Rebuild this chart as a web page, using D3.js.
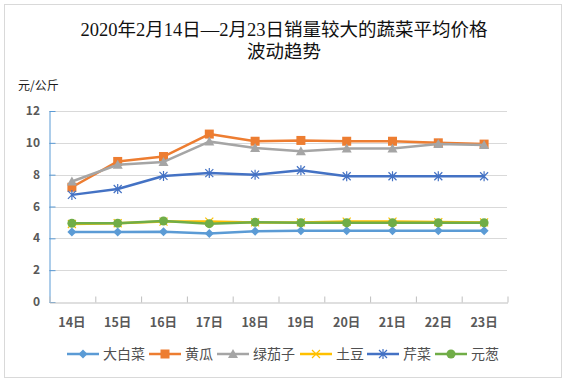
<!DOCTYPE html>
<html><head><meta charset="utf-8">
<script src="https://cdn.jsdelivr.net/npm/d3@7"></script>
<style>body{margin:0;background:#fff;}svg{display:block;}</style>
</head><body>
<svg id="c" width="569" height="383"></svg>
<script>
const categories = ["14日","15日","16日","17日","18日","19日","20日","21日","22日","23日"];
const seriesNames = ["大白菜","黄瓜","绿茄子","土豆","芹菜","元葱"];
const dabaicai = [4.4, 4.4, 4.42, 4.3, 4.45, 4.48, 4.48, 4.48, 4.48, 4.48];
const huanggua = [7.21, 8.83, 9.14, 10.55, 10.1, 10.15, 10.1, 10.1, 10.0, 9.92];
const lvqiezi = [7.57, 8.62, 8.8, 10.08, 9.68, 9.47, 9.64, 9.65, 9.92, 9.86];
const tudou = [4.9, 4.95, 5.05, 5.05, 5.0, 5.0, 5.05, 5.05, 5.02, 5.0];
const qincai = [6.73, 7.1, 7.92, 8.1, 8.0, 8.28, 7.9, 7.9, 7.9, 7.9];
const yuancong = [4.95, 4.95, 5.09, 4.92, 5.01, 4.98, 4.98, 4.98, 4.98, 4.98];
const yTicks = [0, 2, 4, 6, 8, 10, 12];

const seriesData = [dabaicai, huanggua, lvqiezi, tudou, qincai, yuancong];
const colors = ["#5B9BD5", "#ED7D31", "#A5A5A5", "#FFC000", "#4472C4", "#70AD47"];
const markers = ["diamond", "square", "triangle", "x", "star", "circle"];

const svg = d3.select("#c");
const pLeft = 49, pRight = 507, pTop = 111, pBottom = 302;

svg.append("rect").attr("x", 4.5).attr("y", 4.5).attr("width", 557).attr("height", 373)
  .attr("fill", "#fff").attr("stroke", "#D9D9D9").attr("stroke-width", 1);

const titleFont = "'Liberation Serif','Noto Sans CJK SC',serif";
svg.append("text").attr("x", 284).attr("y", 36).attr("text-anchor", "middle")
  .attr("font-family", titleFont).attr("font-size", 18.5).attr("fill", "#111")
  .text("2020年2月14日—2月23日销量较大的蔬菜平均价格");
svg.append("text").attr("x", 284).attr("y", 58).attr("text-anchor", "middle")
  .attr("font-family", titleFont).attr("font-size", 18.5).attr("fill", "#111")
  .text("波动趋势");

const labFont = "'Noto Sans CJK SC','Microsoft YaHei',sans-serif";
svg.append("text").attr("x", 18).attr("y", 90)
  .attr("font-family", labFont).attr("font-size", 12).attr("fill", "#1a1a1a")
  .text("元/公斤");

const x = d3.scaleBand().domain(categories).range([pLeft, pRight]).padding(0);
const y = d3.scaleLinear().domain([0, 12]).range([pBottom, pTop]);

// gridlines
svg.append("g").selectAll("line").data(yTicks.filter(d => d > 0)).join("line")
  .attr("x1", pLeft).attr("x2", pRight)
  .attr("y1", d => Math.round(y(d)) + 0.5).attr("y2", d => Math.round(y(d)) + 0.5)
  .attr("stroke", "#D9D9D9").attr("stroke-width", 1);

// y axis
const yAxis = svg.append("g").attr("transform", `translate(${pLeft + 0.5},0)`)
  .call(d3.axisRight(y).tickValues(yTicks).tickSize(6).tickSizeOuter(0).tickFormat(""));
yAxis.select(".domain").attr("stroke", "#5B9BD5");
yAxis.selectAll(".tick line").attr("stroke", "#5B9BD5");
svg.append("g").selectAll("text").data(yTicks).join("text")
  .attr("x", 40).attr("y", d => y(d) + 4).attr("text-anchor", "end")
  .attr("font-family", labFont).attr("font-size", 12).attr("font-weight", "bold")
  .attr("fill", "#595959").text(d => d);

// x axis
const xb = d3.scaleLinear().domain([0, categories.length]).range([pLeft, pRight]);
const xAxis = svg.append("g").attr("transform", `translate(0.5,${pBottom + 0.5})`)
  .call(d3.axisTop(xb).tickValues(d3.range(categories.length + 1)).tickSize(6).tickSizeOuter(0).tickFormat(""));
xAxis.select(".domain").attr("stroke", "#BFBFBF");
xAxis.selectAll(".tick line").attr("stroke", "#BFBFBF");
svg.append("g").selectAll("text").data(categories).join("text")
  .attr("x", d => x(d) + x.bandwidth() / 2).attr("y", 327).attr("text-anchor", "middle")
  .attr("font-family", labFont).attr("font-size", 12.5).attr("font-weight", "bold")
  .attr("fill", "#595959").text(d => d);

function drawMarker(g, type, cx, cy, color) {
  if (type === "diamond") {
    g.append("path").attr("d", `M${cx},${cy - 4.5}L${cx + 4.5},${cy}L${cx},${cy + 4.5}L${cx - 4.5},${cy}Z`).attr("fill", color);
  } else if (type === "square") {
    g.append("rect").attr("x", cx - 4.5).attr("y", cy - 4.5).attr("width", 9).attr("height", 9).attr("fill", color);
  } else if (type === "triangle") {
    g.append("path").attr("d", `M${cx},${cy - 5}L${cx + 5},${cy + 4}L${cx - 5},${cy + 4}Z`).attr("fill", color);
  } else if (type === "x") {
    g.append("path").attr("d", `M${cx - 4},${cy - 4}L${cx + 4},${cy + 4}M${cx - 4},${cy + 4}L${cx + 4},${cy - 4}`)
      .attr("stroke", color).attr("stroke-width", 1.2).attr("fill", "none");
  } else if (type === "star") {
    g.append("path").attr("d", `M${cx - 4},${cy - 4}L${cx + 4},${cy + 4}M${cx - 4},${cy + 4}L${cx + 4},${cy - 4}M${cx},${cy - 5}L${cx},${cy + 5}`)
      .attr("stroke", color).attr("stroke-width", 1.2).attr("fill", "none");
  } else if (type === "circle") {
    g.append("circle").attr("cx", cx).attr("cy", cy).attr("r", 4.5).attr("fill", color);
  }
}

const line = d3.line().x((d, i) => x(categories[i]) + x.bandwidth() / 2).y(d => y(d));
seriesData.forEach((vals, si) => {
  const g = svg.append("g");
  g.append("path").datum(vals).attr("d", line).attr("fill", "none")
    .attr("stroke", colors[si]).attr("stroke-width", 2.5).attr("stroke-linejoin", "round");
  vals.forEach((v, i) => drawMarker(g, markers[si], x(categories[i]) + x.bandwidth() / 2, y(v), colors[si]));
});

// legend
const legX = [67, 149, 217, 300, 367, 435];
const ly = 354;
seriesNames.forEach((n, i) => {
  const g = svg.append("g");
  g.append("line").attr("x1", legX[i]).attr("x2", legX[i] + 32).attr("y1", ly).attr("y2", ly)
    .attr("stroke", colors[i]).attr("stroke-width", 2.5);
  drawMarker(g, markers[i], legX[i] + 16, ly, colors[i]);
  g.append("text").attr("x", legX[i] + 36).attr("y", ly + 5)
    .attr("font-family", labFont).attr("font-size", 14).attr("fill", "#505050").text(n);
});
</script>
</body></html>
